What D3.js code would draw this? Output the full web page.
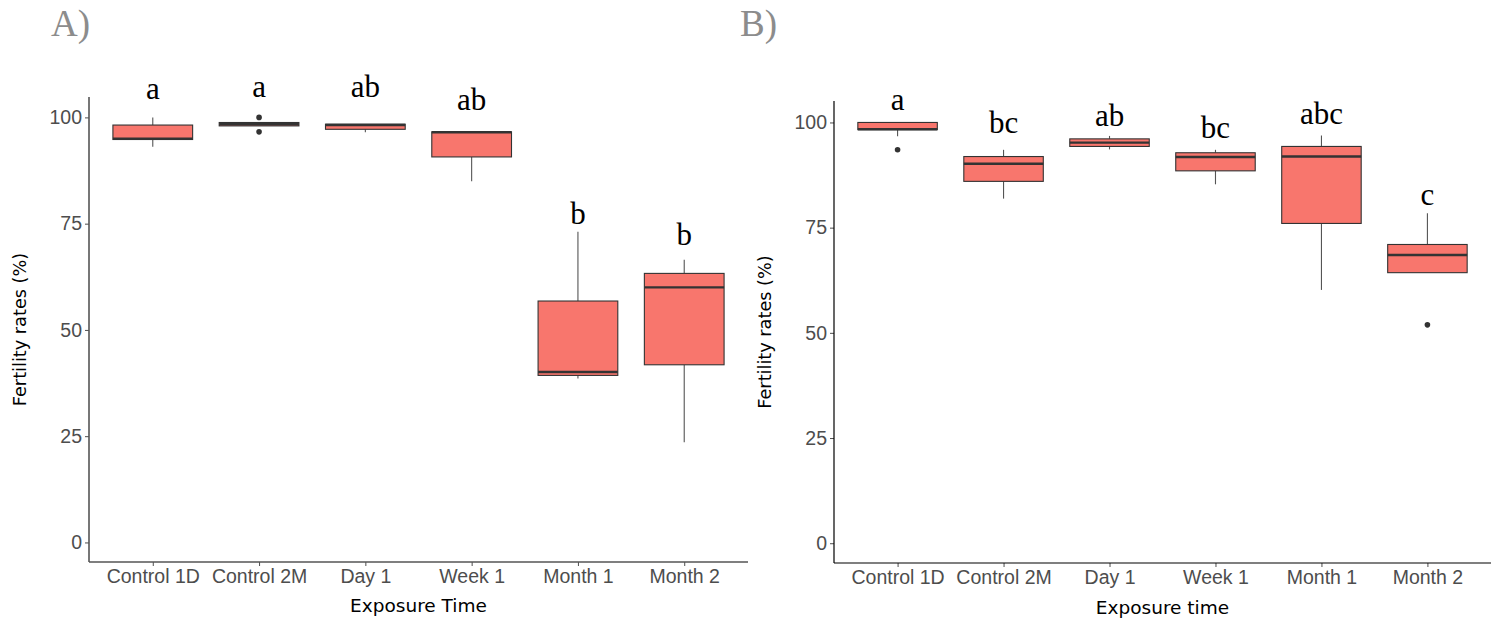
<!DOCTYPE html>
<html>
<head>
<meta charset="utf-8">
<script src="https://cdnjs.cloudflare.com/ajax/libs/d3/7.8.5/d3.min.js"></script>
<style>
  html, body { margin: 0; padding: 0; background: #fff; }
  svg { display: block; }
</style>
</head>
<body>
<svg id="chart" width="1499" height="623"></svg>
<script>
// ---------- data ----------
const categories = ["Control 1D", "Control 2M", "Day 1", "Week 1", "Month 1", "Month 2"];
const yTicks = [0, 25, 50, 75, 100];

// Panel A
const aLow    = [93.1, 98.0, 96.5, 85.0, 38.6, 23.6];
const aQ1     = [94.8, 98.0, 97.2, 90.7, 39.3, 41.8];
const aMedian = [95.0, 98.4, 98.2, 96.5, 40.1, 60.0];
const aQ3     = [98.2, 98.8, 98.4, 96.6, 56.8, 63.3];
const aHigh   = [100.0, 98.8, 98.4, 96.6, 73.1, 66.5];
const aOutliers = [[], [100.0, 96.6], [], [], [], []];
const aLetters  = ["a", "a", "ab", "ab", "b", "b"];
const aLetterY  = [104.4, 104.8, 104.8, 101.8, 74.9, 70.0];

// Panel B
const bLow    = [96.7, 81.9, 93.6, 85.3, 60.2, 64.3];
const bQ1     = [98.3, 86.0, 94.3, 88.5, 76.0, 64.3];
const bMedian = [98.4, 90.2, 95.2, 91.8, 91.9, 68.5];
const bQ3     = [100.0, 91.9, 96.1, 92.8, 94.3, 71.0];
const bHigh   = [100.0, 93.5, 96.8, 93.5, 96.9, 78.4];
const bOutliers = [[93.5], [], [], [], [], [51.9]];
const bLetters  = ["a", "bc", "ab", "bc", "abc", "c"];
const bLetterY  = [103.0, 97.4, 99.2, 96.2, 99.6, 80.4];

// ---------- drawing ----------
const svg = d3.select("#chart");
const FILL = "#F8766D", EDGE = "#333333";

function panel(cfg) {
  const g = svg.append("g");
  const x = d3.scalePoint().domain(categories).range([cfg.left, cfg.right]).padding(0.6);
  const y = d3.scaleLinear().domain(cfg.yDomain).range([cfg.bottom, cfg.top]);
  const bw = x.step() * 0.75;

  const rows = categories.map((c, i) => ({
    c, lo: cfg.low[i], q1: cfg.q1[i], med: cfg.median[i], q3: cfg.q3[i], hi: cfg.high[i],
    out: cfg.outliers[i], letter: cfg.letters[i], ly: cfg.letterY[i]
  }));

  // axes
  const yAxis = d3.axisLeft(y).tickValues(yTicks).tickSize(4).tickPadding(3);
  const yg = g.append("g").attr("transform", `translate(${cfg.left},0)`).call(yAxis);
  const xAxis = d3.axisBottom(x).tickSize(4).tickPadding(3);
  const xg = g.append("g").attr("transform", `translate(0,${cfg.bottom})`).call(xAxis);
  [yg, xg].forEach(ax => {
    ax.select(".domain").remove();
    ax.selectAll(".tick line").attr("stroke", "#4d4d4d").attr("stroke-width", 1);
    ax.selectAll(".tick text").attr("fill", "#4d4d4d")
      .style("font-family", "'Liberation Sans', Arial, sans-serif").style("font-size", "19.5px");
  });
  xg.selectAll(".tick text").attr("dy", "0.72em");
  g.append("line").attr("x1", cfg.left).attr("x2", cfg.left).attr("y1", cfg.top).attr("y2", cfg.bottom)
    .attr("stroke", cfg.axisColor).attr("stroke-width", cfg.axisWidth);
  g.append("line").attr("x1", cfg.left).attr("x2", cfg.right).attr("y1", cfg.bottom).attr("y2", cfg.bottom)
    .attr("stroke", cfg.axisColor).attr("stroke-width", cfg.axisWidth);

  // whiskers, boxes, medians, outliers
  const boxes = g.append("g").selectAll("g").data(rows).join("g");
  boxes.append("line")
    .attr("x1", d => x(d.c)).attr("x2", d => x(d.c))
    .attr("y1", d => y(d.hi)).attr("y2", d => y(d.q3))
    .attr("stroke", "#555").attr("stroke-width", 1.1);
  boxes.append("line")
    .attr("x1", d => x(d.c)).attr("x2", d => x(d.c))
    .attr("y1", d => y(d.q1)).attr("y2", d => y(d.lo))
    .attr("stroke", "#555").attr("stroke-width", 1.1);
  boxes.append("rect")
    .attr("x", d => x(d.c) - bw / 2).attr("width", bw)
    .attr("y", d => y(d.q3)).attr("height", d => Math.max(0.5, y(d.q1) - y(d.q3)))
    .attr("fill", FILL).attr("stroke", EDGE).attr("stroke-width", 1.1);
  boxes.append("line")
    .attr("x1", d => x(d.c) - bw / 2).attr("x2", d => x(d.c) + bw / 2)
    .attr("y1", d => y(d.med)).attr("y2", d => y(d.med))
    .attr("stroke", EDGE).attr("stroke-width", 2.4);
  boxes.selectAll("circle").data(d => d.out.map(v => ({ c: d.c, v }))).join("circle")
    .attr("cx", d => x(d.c)).attr("cy", d => y(d.v)).attr("r", 2.8).attr("fill", EDGE);

  // letters
  g.append("g").selectAll("text").data(rows).join("text")
    .attr("x", d => x(d.c)).attr("y", d => y(d.ly))
    .attr("text-anchor", "middle")
    .style("font-family", "'Liberation Serif', 'Times New Roman', serif")
    .style("font-size", "31px").attr("fill", "#000")
    .text(d => d.letter);

  // titles
  g.append("text").attr("x", (cfg.left + cfg.right) / 2).attr("y", cfg.xTitleY)
    .attr("text-anchor", "middle")
    .style("font-family", "'DejaVu Sans', sans-serif").style("font-size", "18.5px").attr("fill", "#000")
    .text(cfg.xTitle);
  g.append("text")
    .attr("transform", `translate(${cfg.yTitleX},${(cfg.top + cfg.bottom) / 2}) rotate(-90)`)
    .attr("text-anchor", "middle")
    .style("font-family", "'DejaVu Sans', sans-serif").style("font-size", "17.7px").attr("fill", "#000")
    .text("Fertility rates (%)");
  g.append("text").attr("x", cfg.tagX).attr("y", 36)
    .style("font-family", "'Liberation Serif', 'Times New Roman', serif")
    .style("font-size", "37px").attr("fill", "#8c8c8c")
    .text(cfg.tag);
}

panel({
  left: 89, right: 748, top: 97, bottom: 562, yDomain: [-4.6, 104.8],
  low: aLow, q1: aQ1, median: aMedian, q3: aQ3, high: aHigh, outliers: aOutliers,
  letters: aLetters, letterY: aLetterY,
  axisColor: "#555", axisWidth: 1.6,
  xTitle: "Exposure Time", xTitleY: 612, yTitleX: 26, tag: "A)", tagX: 51
});
panel({
  left: 834, right: 1491, top: 101, bottom: 563, yDomain: [-4.7, 105.1],
  low: bLow, q1: bQ1, median: bMedian, q3: bQ3, high: bHigh, outliers: bOutliers,
  letters: bLetters, letterY: bLetterY,
  axisColor: "#000", axisWidth: 1.2,
  xTitle: "Exposure time", xTitleY: 614, yTitleX: 771, tag: "B)", tagX: 740
});
</script>
</body>
</html>
